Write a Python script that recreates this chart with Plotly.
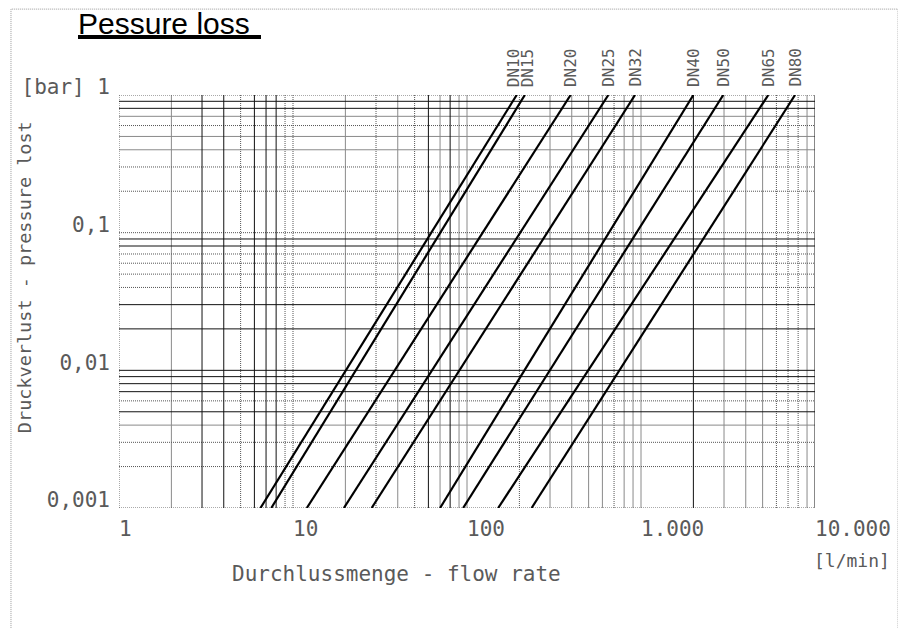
import plotly.graph_objects as go
import math

# ---- data ----
series_names = ["DN10", "DN15", "DN20", "DN25", "DN32", "DN40", "DN50", "DN65", "DN80"]
flow_at_low = [6.5, 7.5, 12.0, 19.6, 28.3, 70.0, 95.0, 151.0, 235.0]        # l/min at 0.001 bar
flow_at_high = [193.0, 215.0, 394.0, 649.0, 924.0, 2000.0, 2970.0, 5390.0, 7680.0]  # l/min at 1 bar
pressure_ends = [0.001, 1.0]  # bar
label_nudge = [-3, 3, 0, 0, 0, 0, 0, 0, 0]  # px, keeps DN10/DN15 labels apart

x_tickvals = [1, 10, 100, 1000, 10000]
x_ticktext = ["1", "10", "100", "1.000", "10.000"]
y_tickvals = [0.001, 0.01, 0.1, 1]
y_ticktext = ["0,001", "0,01", "0,1", "[bar] 1"]

# grid lines of the drawing, grouped by how they are drawn
x_grid_black = [3, 4, 6, 7, 8, 60, 80, 2000, 10000]
x_grid_gray = [2, 20, 40, 70, 90, 100, 300, 400, 500, 600, 800, 900, 1000, 3000, 4000, 5000, 9000]
x_grid_dotted = [1, 5, 9, 10, 30, 50, 200, 700, 6000, 7000, 8000]
y_grid_black = [0.9, 0.8, 0.09, 0.08, 0.03, 0.02, 0.01, 0.009, 0.008, 0.007, 0.005]
y_grid_gray = [0.7, 0.5, 0.4, 0.004]
y_grid_dotted = [1, 0.6, 0.3, 0.2, 0.1, 0.07, 0.06, 0.05, 0.04, 0.006, 0.003, 0.002, 0.001]

X_RANGE = [1, 10000]
Y_RANGE = [0.001, 1]

FONT = "DejaVu Sans Mono, Liberation Mono, monospace"
TXT = "#5a5a5a"


def vlines(vals):
    xs, ys = [], []
    for v in vals:
        xs += [v, v, None]
        ys += [Y_RANGE[0], Y_RANGE[1], None]
    return xs, ys


def hlines(vals):
    xs, ys = [], []
    for v in vals:
        xs += [X_RANGE[0], X_RANGE[1], None]
        ys += [v, v, None]
    return xs, ys


fig = go.Figure()

grid_styles = [
    (x_grid_gray, vlines, dict(color="#8a8a8a", width=1)),
    (y_grid_gray, hlines, dict(color="#8a8a8a", width=1)),
    (x_grid_dotted, vlines, dict(color="#555555", width=1, dash="1px,1px")),
    (y_grid_dotted, hlines, dict(color="#555555", width=1, dash="1px,1px")),
    (x_grid_black, vlines, dict(color="#111111", width=1)),
    (y_grid_black, hlines, dict(color="#111111", width=1)),
]
for vals, fn, ln in grid_styles:
    gx, gy = fn(vals)
    fig.add_trace(go.Scatter(x=gx, y=gy, mode="lines", line=ln,
                             hoverinfo="skip", showlegend=False, connectgaps=False))

for name, q0, q1, nudge in zip(series_names, flow_at_low, flow_at_high, label_nudge):
    fig.add_trace(go.Scatter(
        x=[q0, q1], y=pressure_ends, mode="lines", name=name,
        line=dict(color="black", width=2.2), showlegend=False,
        hoverinfo="name+x+y",
    ))
    fig.add_annotation(
        x=math.log10(q1), xref="x", y=1, yref="paper",
        text=name, textangle=-90, showarrow=False,
        xanchor="center", yanchor="bottom", yshift=6, xshift=nudge,
        font=dict(family=FONT, size=16, color=TXT),
    )

fig.update_xaxes(
    type="log", range=[0, 4], autorange=False,
    tickmode="array", tickvals=x_tickvals, ticktext=x_ticktext,
    ticks="", ticklabelposition="outside right", ticklabelstandoff=6,
    tickfont=dict(family=FONT, size=21, color=TXT),
    showgrid=False, showline=False, zeroline=False, automargin=False,
)
fig.update_yaxes(
    type="log", range=[-3, 0], autorange=False,
    tickmode="array", tickvals=y_tickvals, ticktext=y_ticktext,
    ticks="", ticklabelposition="outside", ticklabelstandoff=8, ticklabelshift=-8,
    tickfont=dict(family=FONT, size=21, color=TXT),
    showgrid=False, showline=False, zeroline=False, automargin=False,
)

# axis titles and unit
fig.add_annotation(
    x=0.3994, xref="paper", y=-0.16, yref="paper", text="Durchlussmenge - flow rate",
    showarrow=False, xanchor="center", yanchor="middle",
    font=dict(family=FONT, size=21, color=TXT),
)
fig.add_annotation(
    x=-0.1365, xref="paper", y=0.559, yref="paper", text="Druckverlust - pressure lost",
    textangle=-90, showarrow=False, xanchor="center", yanchor="middle",
    font=dict(family=FONT, size=18.5, color=TXT),
)
fig.add_annotation(
    x=0.996, xref="paper", y=-0.126, yref="paper", text="[l/min]",
    showarrow=False, xanchor="left", yanchor="middle",
    font=dict(family=FONT, size=18, color=TXT),
)

# page frame and title underline
fig.add_shape(type="rect", xref="paper", yref="paper",
              x0=-0.1552, x1=1.1193, y0=-0.4, y1=1.208,
              line=dict(color="#999999", width=1, dash="1px,1px"), layer="above")
fig.add_shape(type="line", xref="paper", yref="paper",
              x0=-0.0589, x1=0.204, y0=1.1404, y1=1.1404,
              line=dict(color="black", width=4), layer="above")

fig.update_layout(
    width=906, height=628,
    margin=dict(l=111, r=99, t=87, b=128),
    paper_bgcolor="white", plot_bgcolor="white",
    title=dict(text="Pessure loss", x=70 / 906, xanchor="left", xref="container",
               y=1 - 15 / 628, yanchor="middle", yref="container",
               font=dict(family="Liberation Sans, Arial, sans-serif", size=30, color="black")),
)

fig.write_html("out.html")
